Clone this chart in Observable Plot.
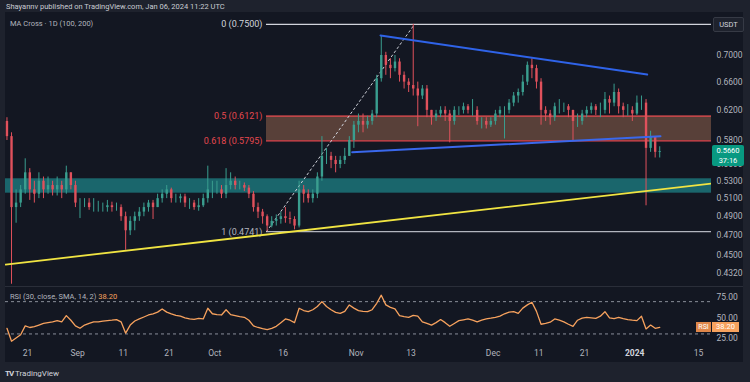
<!DOCTYPE html>
<html><head><meta charset="utf-8">
<script src="https://cdn.jsdelivr.net/npm/d3@7"></script>
<script src="https://cdn.jsdelivr.net/npm/@observablehq/plot@0.6"></script>
<style>
html,body{margin:0;padding:0;background:#1e222d;}
#wrap{position:relative;width:750px;height:382px;overflow:hidden;background:#1e222d;font-family:Roboto,"Liberation Sans",sans-serif;}
#panel{position:absolute;left:5px;top:12px;width:738px;height:350px;background:#131722;}
.abs{position:absolute;white-space:nowrap;}
</style></head><body>
<div id="wrap">
  <div id="panel"></div>
  <div class="abs" style="left:6px;top:2px;font-size:7.5px;color:#c9ccd3;">Shayannv published on TradingView.com, Jan 06, 2024 11:22 UTC</div>
  <div id="price" class="abs" style="left:0;top:12px"></div>
  <div class="abs" style="left:5px;top:286px;width:738px;height:1px;background:#2a2e39"></div>
  <div id="rsi" class="abs" style="left:0;top:287px"></div>
  <div class="abs" style="left:10px;top:19px;font-size:7.5px;color:#b2b5be;">MA Cross · 1D (100, 200)</div>
  <div class="abs" style="left:713px;top:17px;width:29px;height:13px;border:1px solid #363a45;border-radius:2px;background:#1e222d;color:#d1d4dc;font-size:7.5px;line-height:13px;text-align:center;">USDT</div>
  <div class="abs" style="left:712px;top:145px;width:32px;height:21px;background:#089981;border-radius:2px;color:#fff;font-size:7.5px;line-height:9.5px;text-align:center;padding-top:1px;box-sizing:border-box;">0.5660<br>37:16</div>
  <div class="abs" style="left:10px;top:292px;font-size:7.5px;color:#b2b5be;">RSI (30, close, SMA, 14, 2) <span style="color:#f7a25e">38.20</span></div>
  <div class="abs" style="left:696px;top:322px;width:15px;height:10px;background:#e0874a;color:#fff;font-size:7px;line-height:10px;text-align:center;">RSI</div>
  <div class="abs" style="left:712px;top:322px;width:27px;height:10px;background:#f7a25e;color:#fff;font-size:7.5px;line-height:10px;text-align:center;">38.20</div>
  <div class="abs" style="left:5px;top:369px;font-size:8px;color:#d1d4dc;"><b style="letter-spacing:-1px">TV</b> TradingView</div>
</div>
<script>
// ---- data (XRP/USDT daily) ----
const firstDay = "2023-08-16";
const lastDayExclusive = "2024-01-07";
const firstOpen = 0.605;
const closes = [
0.585,0.500,0.505,0.520,0.540,0.520,0.515,0.530,0.520,0.525,
0.520,0.525,0.520,0.540,0.525,0.505,0.505,0.505,0.500,0.500,
0.500,0.500,0.502,0.500,0.500,0.490,0.475,0.485,0.490,0.495,
0.500,0.505,0.500,0.510,0.515,0.520,0.510,0.510,0.512,0.505,
0.505,0.500,0.502,0.510,0.520,0.520,0.520,0.515,0.525,0.530,
0.525,0.525,0.522,0.515,0.500,0.495,0.490,0.480,0.485,0.487,
0.490,0.488,0.487,0.480,0.520,0.515,0.510,0.515,0.535,0.560,
0.560,0.555,0.550,0.555,0.560,0.580,0.600,0.605,0.600,0.605,
0.615,0.665,0.700,0.685,0.680,0.690,0.670,0.660,0.655,0.650,
0.640,0.650,0.620,0.610,0.615,0.620,0.615,0.605,0.620,0.620,
0.625,0.620,0.620,0.605,0.605,0.600,0.605,0.615,0.620,0.620,
0.630,0.640,0.645,0.660,0.685,0.680,0.660,0.620,0.615,0.610,
0.625,0.625,0.625,0.620,0.605,0.605,0.615,0.620,0.625,0.620,
0.620,0.635,0.630,0.645,0.625,0.620,0.620,0.615,0.630,0.630,
0.570,0.585,0.565,0.566];
const highs = [
0.610,0.590,0.520,0.525,0.557,0.545,0.530,0.540,0.535,0.535,
0.530,0.535,0.530,0.548,0.540,0.530,0.510,0.510,0.510,0.510,
0.507,0.505,0.508,0.506,0.505,0.503,0.495,0.490,0.495,0.500,
0.505,0.508,0.508,0.515,0.520,0.525,0.522,0.515,0.515,0.515,
0.510,0.508,0.510,0.515,0.548,0.530,0.530,0.525,0.545,0.540,
0.535,0.530,0.528,0.525,0.518,0.505,0.498,0.492,0.490,0.492,
0.495,0.500,0.495,0.490,0.530,0.525,0.520,0.520,0.540,0.585,
0.570,0.565,0.560,0.560,0.570,0.585,0.605,0.615,0.615,0.612,
0.620,0.670,0.731,0.705,0.695,0.700,0.695,0.675,0.665,0.750,
0.660,0.655,0.655,0.620,0.620,0.625,0.625,0.620,0.625,0.625,
0.630,0.628,0.635,0.625,0.610,0.610,0.610,0.620,0.625,0.625,
0.635,0.645,0.650,0.670,0.690,0.695,0.685,0.665,0.625,0.620,
0.630,0.635,0.630,0.628,0.620,0.615,0.620,0.625,0.630,0.628,
0.630,0.645,0.640,0.657,0.650,0.630,0.628,0.625,0.640,0.640,
0.635,0.592,0.585,0.572];
const lows = [
0.580,0.422,0.483,0.500,0.515,0.508,0.505,0.510,0.510,0.515,
0.513,0.513,0.510,0.515,0.520,0.500,0.488,0.500,0.497,0.495,
0.495,0.495,0.495,0.495,0.496,0.485,0.455,0.470,0.475,0.485,
0.490,0.495,0.487,0.500,0.505,0.510,0.505,0.505,0.505,0.500,
0.498,0.497,0.496,0.500,0.505,0.510,0.515,0.510,0.510,0.520,
0.520,0.520,0.518,0.510,0.495,0.488,0.482,0.4741,0.478,0.480,
0.482,0.483,0.482,0.476,0.478,0.505,0.505,0.505,0.510,0.530,
0.550,0.545,0.540,0.545,0.550,0.565,0.570,0.590,0.590,0.595,
0.600,0.610,0.660,0.670,0.665,0.675,0.660,0.650,0.645,0.640,
0.598,0.635,0.610,0.600,0.605,0.610,0.605,0.577,0.600,0.613,
0.615,0.615,0.612,0.600,0.595,0.595,0.597,0.600,0.610,0.582,
0.615,0.625,0.630,0.640,0.655,0.665,0.650,0.600,0.605,0.600,
0.605,0.615,0.617,0.610,0.580,0.597,0.600,0.610,0.615,0.613,
0.610,0.615,0.615,0.625,0.615,0.610,0.612,0.605,0.613,0.620,
0.502,0.565,0.558,0.558];
const rsiValues = [
37,21,25,29,40,38,39,41,43,44,
45,46.5,45,52.7,47,40,37,41,43,45,
45,46,46.5,47,47.8,45,31,41,46,48.6,
51,53.5,55,57,61,57,54.8,53,52,50,
48.6,48,49.4,48.6,61.8,55,54,53.5,60,54,
52.7,51.5,50.6,47,40,38,36.5,35.4,37,39.5,
44,48.6,47,44,61.8,59,57.6,60,64,70,
64,60,56.8,55.5,58,65.9,62,58.9,58,57.6,
60,68,78,66,63,61,52.7,51.5,50.6,53,
52,45,43,41,44,47.8,44,39.5,43,46.5,
47.5,48.6,47,45,47,48.6,49.5,50.6,52,55,
57,57.6,55.5,62,66,69.2,58,42,43,44.5,
48.6,47,45,42,39.5,47,49.5,50.6,50,49.4,
52,57.6,50,49,50.6,49,47.8,47,46.5,52,
36.2,41,37,38.2];
const priceTicks = [0.70,0.66,0.62,0.58,0.55,0.53,0.51,0.49,0.47,0.45,0.432];
const rsiTicks = [25,50,75];
const rsiBands = [30,70];
const timeTicks = ["2023-08-21","2023-09-01","2023-09-11","2023-09-21","2023-10-01","2023-10-16","2023-11-01","2023-11-13","2023-12-01","2023-12-11","2023-12-21","2024-01-01","2024-01-15"];
const timeLabels = ["21","Sep","11","21","Oct","16","Nov","13","Dec","11","21","2024","15"];
const viewStart = "2023-08-16T04:20:00Z", viewEnd = "2024-01-17T20:10:00Z";
const fibRatios = ["0","0.5","0.618","1"];
const fibLevels = [0.7500,0.6121,0.5795,0.4741];
const fibStart = "2023-10-12T08:30:00Z";
const fibTop = "2023-11-13T18:40:00Z";
const zoneLow = 0.5162, zoneHigh = 0.5329;
const supportDates = ["2023-08-16T04:20:00Z","2024-01-17T20:10:00Z"], supportPrices = [0.4408,0.5274];
const upperDates = ["2023-11-06T08:00:00Z","2024-01-03T18:00:00Z"], upperPrices = [0.7317,0.6712];
const lowerDates = ["2023-10-31T03:00:00Z","2024-01-06T16:00:00Z"], lowerPrices = [0.5652,0.5855];

// ---- build ----
const P = s => new Date(s);
const days = d3.utcDay.range(P(firstDay), P(lastDayExclusive));
const candles = days.map((d,i) => {
  const open = i === 0 ? firstOpen : closes[i-1];
  const close = closes[i];
  return {date: d3.utcHour.offset(d,12), open, close,
    high: Math.max(highs[i], open, close), low: Math.min(lows[i], open, close)};
});
const UP = "#3a9e8f", DOWN = "#e0515c";
const col = d => d.close >= d.open ? UP : DOWN;
const xDomain = [P(viewStart), P(viewEnd)];
const fib = fibLevels.map((v,i) => ({v, label:`${fibRatios[i]} (${v.toFixed(4)})`, i}));
const fibColors = ["#d1d4dc","#e5484f","#e5484f","#b2b5be"];
const seg = (ds, ps) => ds.map((d,i) => ({date:P(d), price:ps[i]}));
const font = "Roboto, 'Liberation Sans', sans-serif";

const price = Plot.plot({
  width: 750, height: 275,
  marginLeft: 5, marginRight: 39, marginTop: 0, marginBottom: 0,
  style: {background:"transparent", color:"#b2b5be", fontFamily: font, fontSize:"8.5px"},
  x: {type:"utc", domain: xDomain, axis: null},
  y: {type:"log", domain:[0.41897, 0.7699], axis: null},
  marks: [
    Plot.rect([0], {x1: () => xDomain[0], x2: () => xDomain[1], y1: () => zoneLow, y2: () => zoneHigh, fill:"#1c7479", fillOpacity:0.85}),
    Plot.rect([0], {x1: () => P(fibStart), x2: () => xDomain[1], y1: () => fibLevels[2], y2: () => fibLevels[1], fill:"#f7a072", fillOpacity:0.3}),
    Plot.ruleY(fib, {y:"v", x1: () => P(fibStart), x2: () => xDomain[1], stroke: d => fibColors[d.i], strokeWidth: 1.2}),
    Plot.text(fib, {x: () => P(fibStart), y:"v", text:"label", textAnchor:"end", dx:-4, fill: d => fibColors[d.i], fontSize: 9}),
    Plot.line(seg([fibStart, fibTop],[fibLevels[3], fibLevels[0]]), {x:"date", y:"price", stroke:"#d1d4dc", strokeDasharray:"2,3", strokeWidth:1}),
    Plot.ruleX(candles, {x:"date", y1:"low", y2:"high", stroke: col, strokeWidth:1, clip:true}),
    Plot.ruleX(candles, {x:"date", y1:"open", y2:"close", stroke: col, strokeWidth:2.4, clip:true}),
    Plot.line(seg(supportDates, supportPrices), {x:"date", y:"price", stroke:"#f0e442", strokeWidth:1.8, clip:true}),
    Plot.line(seg(upperDates, upperPrices), {x:"date", y:"price", stroke:"#2f63e8", strokeWidth:2}),
    Plot.line(seg(lowerDates, lowerPrices), {x:"date", y:"price", stroke:"#3a68ec", strokeWidth:2}),
    Plot.text(priceTicks, {x: () => xDomain[1], y: d => d, text: d3.format(".4f"), textAnchor:"start", dx:5, fill:"#b2b5be"})
  ]
});
document.getElementById("price").append(price);

const rsiData = days.map((d,i) => ({date: d3.utcHour.offset(d,12), v: rsiValues[i]}));
const ticks = timeTicks.map((t,i) => ({date: P(t + "T00:00:00Z"), label: timeLabels[i]}));
const rsi = Plot.plot({
  width: 750, height: 75,
  marginLeft: 5, marginRight: 39, marginTop: 2, marginBottom: 17,
  style: {background:"transparent", color:"#b2b5be", fontFamily: font, fontSize:"8.5px", overflow:"visible"},
  x: {type:"utc", domain: xDomain, axis: null},
  y: {domain:[15.70, 85.05], axis: null},
  marks: [
    Plot.ruleY(rsiBands, {stroke:"#8a8e99", strokeDasharray:"3,3", strokeWidth:1}),
    Plot.line(rsiData, {x:"date", y:"v", stroke:"#f7a25e", strokeWidth:1.3}),
    Plot.text(rsiTicks, {x: () => xDomain[1], y: d => d, text: d3.format(".2f"), textAnchor:"start", dx:5, fill:"#b2b5be"}),
    Plot.text(ticks.filter(d => d.label !== "2024"), {x:"date", text:"label", frameAnchor:"bottom", dy:10, fill:"#b2b5be"}),
    Plot.text(ticks.filter(d => d.label === "2024"), {x:"date", text:"label", frameAnchor:"bottom", dy:10, fill:"#d1d4dc", fontWeight:"bold"})
  ]
});
document.getElementById("rsi").append(rsi);
</script>
</body></html>
